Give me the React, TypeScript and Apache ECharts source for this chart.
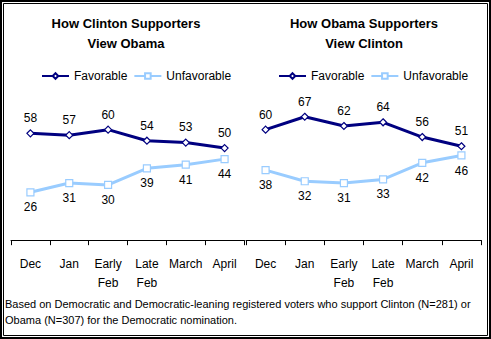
import React, { useEffect, useRef } from "react";
import * as echarts from "echarts";

const categories = ["Dec", "Jan", "Early\nFeb", "Late\nFeb", "March", "April"];
const clintonViewObamaFav = [58, 57, 60, 54, 53, 50];
const clintonViewObamaUnfav = [26, 31, 30, 39, 41, 44];
const obamaViewClintonFav = [60, 67, 62, 64, 56, 51];
const obamaViewClintonUnfav = [38, 32, 31, 33, 42, 46];
const panelTitles = ["How Clinton Supporters\nView Obama", "How Obama Supporters\nView Clinton"];
const seriesNames = ["Favorable", "Unfavorable"];
const footnote =
  "Based on Democratic and Democratic-leaning registered voters who support Clinton (N=281) or\nObama (N=307) for the Democratic nomination.";

const FONT = "'Liberation Sans', Arial, sans-serif";
const NAVY = "#000080";
const LIGHT = "#99CCFF";

export default function App() {
  const ref = useRef<HTMLDivElement>(null);
  useEffect(() => {
    if (!ref.current) return;
    const chart = echarts.init(ref.current, undefined, { renderer: "svg" });
    const grids = [
      { left: 11, top: 56, width: 233, height: 186 },
      { left: 246, top: 56, width: 235, height: 186 },
    ];
    const mkX = (i: number) => ({
      type: "category" as const,
      gridIndex: i,
      data: categories,
      boundaryGap: true,
      axisLine: { lineStyle: { color: "#000", width: 1 } },
      axisTick: { show: true, length: 5, lineStyle: { color: "#000" } },
      axisLabel: {
        interval: 0,
        margin: 12,
        color: "#000",
        fontFamily: FONT,
        fontSize: 12,
        lineHeight: 19,
      },
    });
    const mkY = (i: number) => ({
      type: "value" as const,
      gridIndex: i,
      min: -1,
      max: 100,
      show: false,
      splitLine: { show: false },
    });
    const mkSeries = (i: number, name: string, data: number[], fav: boolean) => ({
      type: "line" as const,
      name,
      xAxisIndex: i,
      yAxisIndex: i,
      data,
      symbol: fav ? "diamond" : "rect",
      symbolSize: 7,
      lineStyle: { color: fav ? NAVY : LIGHT, width: 3 },
      itemStyle: { color: "#fff", borderColor: fav ? NAVY : LIGHT, borderWidth: 1.2 },
      label: {
        show: true,
        position: fav ? "top" : "bottom",
        distance: 5,
        color: "#000",
        fontFamily: FONT,
        fontSize: 12,
      },
      emphasis: { disabled: true },
    });
    const titleCenters = [126, 364];
    const legendLefts = [36, 273];
    chart.setOption({
      animation: false,
      grid: grids,
      xAxis: [mkX(0), mkX(1)],
      yAxis: [mkY(0), mkY(1)],
      legend: legendLefts.map((l) => ({
        left: l,
        top: 65,
        itemWidth: 27,
        itemHeight: 7,
        itemGap: 6,
        data: seriesNames,
        textStyle: { color: "#000", fontFamily: FONT, fontSize: 12 },
        selectedMode: false,
      })),
      series: [
        mkSeries(0, seriesNames[0], clintonViewObamaFav, true),
        mkSeries(0, seriesNames[1], clintonViewObamaUnfav, false),
        mkSeries(1, seriesNames[0], obamaViewClintonFav, true),
        mkSeries(1, seriesNames[1], obamaViewClintonUnfav, false),
      ],
      graphic: [
        {
          type: "rect",
          shape: { x: 1, y: 1, width: 489, height: 337 },
          style: { fill: "none", stroke: "#000", lineWidth: 2 },
          silent: true,
        },
        {
          type: "rect",
          shape: { x: 3.5, y: 3.5, width: 484, height: 332 },
          style: { fill: "none", stroke: "#000", lineWidth: 1 },
          silent: true,
        },
        ...panelTitles.map((t, i) => ({
          type: "text",
          x: titleCenters[i],
          y: 13,
          style: {
            text: t,
            textAlign: "center",
            textVerticalAlign: "top",
            font: `bold 13px ${FONT}`,
            lineHeight: 20,
            fill: "#000",
          },
          silent: true,
        })),
        {
          type: "text",
          x: 5,
          y: 296,
          style: {
            text: footnote,
            font: `11px ${FONT}`,
            lineHeight: 16,
            fill: "#000",
          },
          silent: true,
        },
      ],
    });
    return () => chart.dispose();
  }, []);
  return (
    <div
      ref={ref}
      style={{ position: "absolute", left: 0, top: 0, width: 491, height: 339, background: "#fff" }}
    />
  );
}
